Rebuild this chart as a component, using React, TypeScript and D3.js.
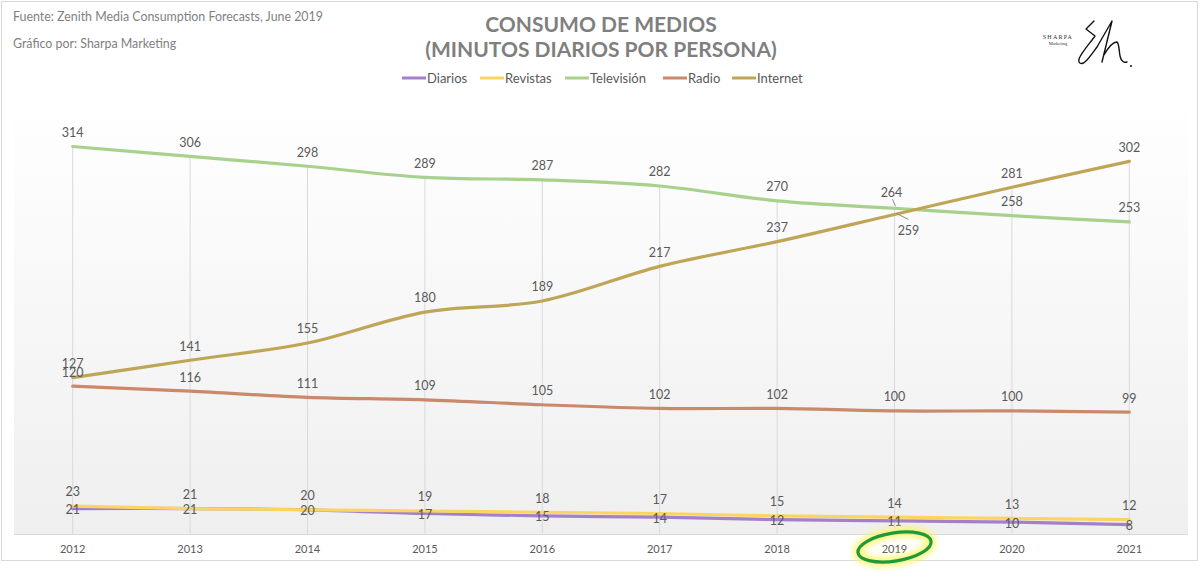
import { curveCardinal, line, max, scaleLinear, scalePoint } from "d3";
import type { FC } from "react";

const years = ["2012", "2013", "2014", "2015", "2016", "2017", "2018", "2019", "2020", "2021"];
const seriesNames = ["Diarios", "Revistas", "Televisión", "Radio", "Internet"];
const seriesColors = ["#a47fcb", "#fcd560", "#a9d18e", "#c9896a", "#bfa657"];
const diarios = [21, 21, 20, 17, 15, 14, 12, 11, 10, 8];
const revistas = [23, 21, 20, 19, 18, 17, 15, 14, 13, 12];
const television = [314, 306, 298, 289, 287, 282, 270, 264, 258, 253];
const radio = [120, 116, 111, 109, 105, 102, 102, 100, 100, 99];
const internet = [127, 141, 155, 180, 189, 217, 237, 259, 281, 302];
const allSeries = [diarios, revistas, television, radio, internet];
const yMax = 350;

const textColor = "#595959";
const font = "Lato, 'Open Sans', sans-serif";

const App: FC = () => {
  const width = 1200;
  const height = 577;
  const plot = { left: 14, right: 1188, top: 100, bottom: 534.5 };

  // Scales
  const xScale = scalePoint<string>()
    .domain(years)
    .range([plot.left, plot.right])
    .padding(0.5);
  const yScale = scaleLinear().domain([0, yMax]).range([plot.bottom, plot.top + 2]);

  const lineGen = line<number>()
    .curve(curveCardinal.tension(0))
    .x((_, i) => xScale(years[i]) as number)
    .y((d) => yScale(d));

  // label offsets: Diarios sits on its line, the rest above; 2019 crossing gets leaders
  const labelPos = (s: number, i: number, v: number) => {
    const x = xScale(years[i]) as number;
    const y = yScale(v);
    if (s === 0) return { x, y: y + 1, leader: null };
    if (s === 2 && years[i] === "2019")
      return { x: x - 3, y: y - 16, leader: [x - 2, y - 9, x + 1, y - 2] };
    if (s === 4 && years[i] === "2019")
      return { x: x + 14, y: y + 16, leader: [x + 14, y + 5, x + 2, y - 1] };
    return { x, y: y - 14, leader: null };
  };

  // legend layout
  const legendWidths = [40, 47, 60, 31, 46];
  const legendGap = 14;
  const legendTotal =
    legendWidths.reduce((a, b) => a + b, 0) + seriesNames.length * (24 + legendGap) - legendGap;
  let legendX = 602 - legendTotal / 2;
  const legendItems = seriesNames.map((name, idx) => {
    const x0 = legendX;
    legendX += 24 + legendWidths[idx] + legendGap;
    return { name, x0, color: seriesColors[idx] };
  });

  return (
    <svg
      width={width}
      height={height}
      style={{ position: "absolute", left: 0, top: 0, background: "#fff" }}
      fontFamily={font}
    >
      <defs>
        <linearGradient id="plotBg" x1="0" y1="0" x2="0" y2="1">
          <stop offset="0%" stopColor="#ffffff" />
          <stop offset="100%" stopColor="#efefef" />
        </linearGradient>
        <filter id="glow" x="-50%" y="-50%" width="200%" height="200%">
          <feGaussianBlur stdDeviation="3" />
        </filter>
      </defs>
      <rect x={1.5} y={1.5} width={1196} height={559} fill="#fff" stroke="#d9d9d9" />
      <rect
        x={plot.left}
        y={plot.top}
        width={plot.right - plot.left}
        height={plot.bottom - plot.top}
        fill="url(#plotBg)"
      />
      <line x1={plot.left} x2={plot.right} y1={plot.bottom} y2={plot.bottom} stroke="#d9d9d9" />

      {/* header */}
      <text x={13} y={21} fontSize={12.4} fill="#7f7f7f">
        Fuente: Zenith Media Consumption Forecasts, June 2019
      </text>
      <text x={13} y={48} fontSize={12.4} fill="#7f7f7f">
        Gráfico por: Sharpa Marketing
      </text>
      <text x={601} y={32} fontSize={21} fontWeight="bold" fill="#7f7f7f" textAnchor="middle">
        CONSUMO DE MEDIOS
      </text>
      <text x={601} y={57} fontSize={21} fontWeight="bold" fill="#7f7f7f" textAnchor="middle">
        (MINUTOS DIARIOS POR PERSONA)
      </text>

      {/* logo */}
      <text
        x={1058}
        y={39}
        fontSize={6}
        fontFamily="'Liberation Serif', serif"
        letterSpacing={1.2}
        textAnchor="middle"
        fill="#333"
      >
        SHARPA
      </text>
      <text
        x={1058}
        y={45}
        fontSize={4.5}
        fontFamily="'Liberation Serif', serif"
        textAnchor="middle"
        fill="#333"
      >
        Marketing
      </text>
      <path
        d="M1094,21 L1086,29 L1095,36 C1090,43 1081,53 1079,59 C1078,64 1082,65 1086,61 C1090,57 1094,51 1097,47 L1112,21 L1102,62 M1104,55 C1108,48 1113,42 1117,42 C1119,43 1119,50 1120,56 C1121,61 1124,63 1127,62"
        fill="none"
        stroke="#111"
        strokeWidth={1.4}
        strokeLinejoin="round"
        strokeLinecap="round"
      />
      <circle cx={1131} cy={66} r={1} fill="#111" />

      {/* legend */}
      {legendItems.map((d) => (
        <g key={d.name}>
          <line x1={d.x0} x2={d.x0 + 24} y1={78} y2={78} stroke={d.color} strokeWidth={3} />
          <text x={d.x0 + 25} y={82.5} fontSize={13} fill={textColor}>
            {d.name}
          </text>
        </g>
      ))}

      {/* drop lines */}
      {years.map((yr, i) => (
        <line
          key={yr}
          x1={xScale(yr)}
          x2={xScale(yr)}
          y1={yScale(max(allSeries, (s) => s[i]) as number)}
          y2={plot.bottom}
          stroke="#d9d9d9"
        />
      ))}

      {/* series */}
      {allSeries.map((values, s) => (
        <path
          key={seriesNames[s]}
          d={lineGen(values) || ""}
          fill="none"
          stroke={seriesColors[s]}
          strokeWidth={3.2}
          strokeLinecap="round"
        />
      ))}

      {/* data labels */}
      {allSeries.map((values, s) =>
        values.map((v, i) => {
          const p = labelPos(s, i, v);
          return (
            <g key={`${s}-${i}`}>
              {p.leader && (
                <line
                  x1={p.leader[0]}
                  y1={p.leader[1]}
                  x2={p.leader[2]}
                  y2={p.leader[3]}
                  stroke="#8c8c8c"
                />
              )}
              <text
                x={p.x}
                y={p.y}
                dy="0.35em"
                fontSize={12.5}
                fill={textColor}
                textAnchor="middle"
              >
                {v}
              </text>
            </g>
          );
        }),
      )}

      {/* x axis */}
      {years.map((yr) => (
        <text
          key={yr}
          x={xScale(yr)}
          y={553}
          fontSize={11}
          fill={textColor}
          textAnchor="middle"
        >
          {yr}
        </text>
      ))}

      {/* highlight 2019 */}
      <g transform={`translate(${xScale("2019")},547) rotate(-9)`}>
        <ellipse rx={37} ry={14} fill="none" stroke="#fbf56a" strokeWidth={9} filter="url(#glow)" />
        <ellipse rx={37} ry={14} fill="none" stroke="#1e9a3c" strokeWidth={3.2} />
      </g>
    </svg>
  );
};

export default App;
